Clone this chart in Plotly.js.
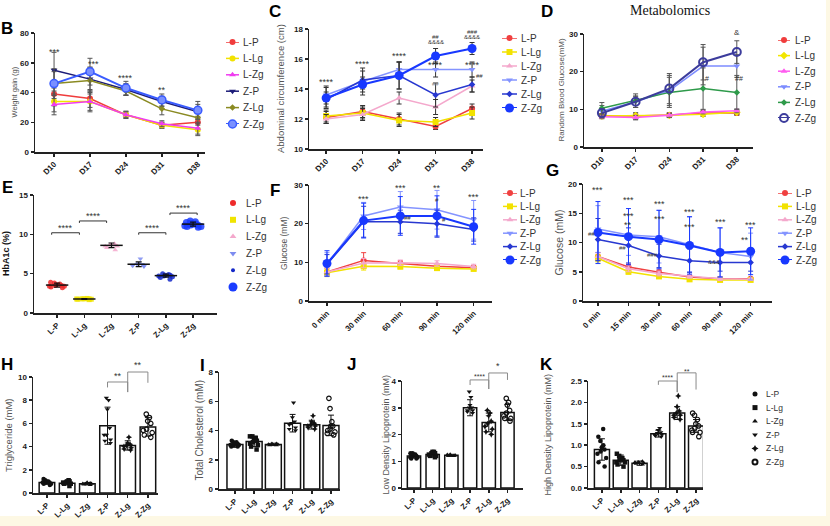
<!DOCTYPE html>
<html><head><meta charset="utf-8">
<script src="https://cdn.plot.ly/plotly-3.0.1.min.js"></script>
<style>html,body{margin:0;padding:0;background:#fff;overflow:hidden}#chart{width:830px;height:526px}</style>
</head><body><div id="chart"></div>
<script>
// ---------------- DATA ----------------
const groups = ['L-P','L-Lg','L-Zg','Z-P','Z-Lg','Z-Zg'];
const days = ['D10','D17','D24','D31','D38'];
const ogttTimes = ['0 min','30 min','60 min','90 min','120 min'];
const ittTimes = ['0 min','15 min','30 min','60 min','90 min','120 min'];

// B: weight gain (g), rows = groups
const weightMean = [[39,36,25,18,20],[34,34,25,18,15],[32,34,25,19,16],[55,49,42,34,27],[46,48,41,29,23],[46,54,43,35,28]];
const weightSD   = [[8,6,2.5,2,4],[7,7,2,2,4],[7,6,2,2,4],[12,8,4,3.5,5],[8,9,3,4,5],[10,9,4.5,4,6]];

// C: abdominal circumference (cm)
const waistMean = [[12.1,12.5,12.0,11.5,12.7],[12.2,12.4,11.9,11.8,12.4],[12.0,12.3,13.4,12.8,14.2],[13.6,14.5,15.3,15.3,15.3],[13.3,14.6,14.9,13.6,14.3],[13.4,14.3,14.9,16.2,16.7]];
const waistSD   = [[0.4,0.4,0.4,0.2,0.3],[0.4,0.4,0.4,0.3,0.4],[0.3,0.4,0.4,0.5,0.4],[0.6,0.9,0.5,0.5,0.5],[0.5,0.6,0.9,0.8,0.5],[0.7,0.5,0.9,0.5,0.4]];

// D: random blood glucose (mM)
const rbgMean = [[8.3,8.2,8.5,9.0,9.0],[8.2,8.3,8.4,8.7,9.2],[8.0,7.8,8.4,9.3,9.6],[9.5,12.0,15.0,21.5,21.5],[10.3,12.3,14.5,15.5,14.5],[9.0,12.0,15.5,22.5,25.2]];
const rbgSD   = [[0.5,0.8,0.6,0.5,0.6],[0.5,0.8,0.6,0.6,0.6],[0.5,0.6,0.5,0.5,0.5],[1.5,1.5,4,5,3],[1.5,1.8,4,5.5,4.5],[1.2,1.5,4,4.7,3]];

// E: HbA1c (%) individual values, mean, SD
const hba1cPts = [
  [3.2,3.4,3.5,3.6,3.8,3.3,3.7,3.5,3.9,3.4],
  [1.7,1.75,1.8,1.8,1.85,1.75,1.8,1.78],
  [8.0,8.3,8.5,8.6,8.7,8.8,8.5,8.6],
  [5.9,6.0,6.2,6.3,6.9,6.1,6.2,6.0],
  [4.3,4.5,4.7,4.8,5.0,4.9,4.6,4.8,4.7],
  [10.9,11.0,11.2,11.3,11.5,11.7,11.3,11.1,11.4,11.2,11.6,11.0]];
const hba1cMean = [3.55,1.78,8.6,6.2,4.75,11.3];
const hba1cSD   = [0.25,0.05,0.3,0.3,0.2,0.25];

// F: OGTT glucose (mM)
const ogttMean = [[7.5,10.5,9.7,9.0,8.6],[7.3,9.0,8.9,8.5,8.3],[7.5,9.8,9.9,9.7,8.9],[9.5,22.0,24.3,23.6,21.0],[9.5,20.5,20.5,20.0,18.5],[9.7,20.8,22.0,22.0,19.2]];
const ogttSD   = [[1,2,0.7,0.6,0.6],[1,1,0.6,0.6,0.5],[1,1.2,0.7,0.7,0.6],[3,3.5,4,5,5],[2.5,4,3,3.5,3],[3.3,4.5,5,5.2,4.5]];

// G: ITT glucose (mM)
const ittMean = [[7.6,5.8,4.9,4.1,3.8,3.8],[7.3,5.0,4.2,3.7,3.6,3.6],[7.6,5.5,4.7,4.2,3.8,3.7],[12.3,11.3,11.0,9.7,8.3,7.6],[10.5,9.5,7.7,6.9,6.6,6.6],[11.7,11.0,10.5,9.5,8.3,8.5]];
const ittSD   = [[0.7,0.5,0.4,0.3,0.3,0.2],[0.6,0.4,0.3,0.3,0.2,0.2],[0.6,0.5,0.4,0.3,0.3,0.2],[4,3.5,4.5,4.7,4.2,4],[3.6,3,2,2,1.5,1.5],[5.3,4.8,5,4.9,4.2,4]];

// H: triglyceride (mM)
const tgMean = [0.9,0.85,0.8,5.8,4.1,5.7];
const tgSD   = [0.15,0.15,0.1,1.6,0.4,0.8];
const tgPts = [[0.7,0.8,0.9,1.0,1.1,0.9,0.8,1.0,1.2,0.9],[0.6,0.8,0.9,1.0,1.1,0.8,0.9,1.0],[0.7,0.8,0.8,0.9,0.85,0.8,0.75],[8.2,8.0,7.2,5.0,4.5,4.3,4.6,5.0,5.6],[4.8,4.3,4.2,3.9,3.8,4.0,4.1,3.7],[6.8,6.5,6.2,6.0,5.5,5.2,5.0,4.8,5.4]];

// I: total cholesterol (mM)
const tcMean = [3.05,3.25,3.05,4.5,4.4,4.35];
const tcSD   = [0.2,0.35,0.08,0.6,0.3,0.7];
const tcPts = [[2.9,3.0,3.1,3.2,3.3,3.0,2.9,3.1,3.0,3.2],[2.7,2.9,3.1,3.3,3.5,3.6,3.4,3.2,3.0,3.6],[3.0,3.05,3.1,3.0,3.1,3.05],[5.9,4.9,4.6,4.4,4.2,4.1,4.5,4.0],[5.0,4.6,4.5,4.3,4.2,4.1,4.3,4.4],[6.2,5.5,4.6,4.3,4.0,3.8,3.7,4.1,3.9,4.3]];

// J: LDL (mM)
const ldlMean = [1.2,1.25,1.22,3.0,2.45,2.82];
const ldlSD   = [0.08,0.1,0.04,0.3,0.35,0.3];
const ldlPts = [[1.1,1.15,1.2,1.25,1.3,1.2,1.15,1.25,1.1,1.3],[1.15,1.2,1.3,1.35,1.25,1.2,1.3,1.35],[1.2,1.22,1.25,1.2,1.24],[3.6,3.4,3.1,3.0,2.9,2.8,2.85,3.0,2.9],[2.9,2.8,2.7,2.5,2.4,2.2,2.1,2.0,2.3],[3.35,3.2,3.1,2.9,2.8,2.6,2.5,2.7,2.6]];

// K: HDL (mM)
const hdlMean = [0.9,0.65,0.58,1.27,1.75,1.45];
const hdlSD   = [0.25,0.12,0.05,0.08,0.15,0.15];
const hdlPts = [[1.38,1.2,1.0,0.95,0.9,0.85,0.7,0.6,0.5,0.8,1.1],[0.8,0.75,0.7,0.65,0.6,0.55,0.5,0.6,0.7,0.65],[0.62,0.6,0.58,0.55,0.57,0.6],[1.4,1.35,1.3,1.25,1.2,1.25,1.28,1.22],[2.15,1.9,1.8,1.7,1.65,1.75,1.7,1.6],[1.75,1.7,1.6,1.5,1.4,1.35,1.3,1.2,1.3,1.45]];

// ---------------- STYLES ----------------
const FONT = 'Liberation Sans, Arial, sans-serif';
const styleB = {colors:['#f03c3c','#f2e200','#f03cf0','#1c1c78','#8a8a22','#3a5cff'], fills:[null,null,null,null,null,'#7a90ff'],
  symbols:['circle','circle','triangle-up','triangle-down','diamond','circle'], sizes:[6,6,6,6,5,8]};
const styleC = {colors:['#f04040','#f2e200','#f4a8cc','#8494ff','#2838d0','#1838ff'],
  symbols:['circle','square','triangle-up','triangle-down','diamond','circle'], sizes:[6,6,6,6,5,9]};
const styleD = {colors:['#f03c3c','#f2e600','#ff5cf0','#7d8cff','#2e9a4a','#3c3c9c'],
  symbols:['circle','diamond','triangle-up','triangle-down','diamond','circle-open'], sizes:[6,6,6,6,5,8]};
const styleE = {colors:['#ee2a2a','#f0e400','#f4a8cc','#7d8cf0','#1428c8','#1a3cff'],
  symbols:['circle','square','triangle-up','triangle-down','circle','circle'], sizes:[6,6,6,6,4,9]};
const styleK = {colors:['#111','#111','#111','#111','#111','#111'],
  symbols:['circle','square','triangle-up','triangle-down','star-diamond','circle-open'], sizes:[5,5,5,5,5,5]};

// ---------------- HELPERS ----------------
const W = 830, H = 526;
const fx = p => p / W;
const fy = p => 1 - p / H;
const data = [];
const layout = {width:W, height:H, margin:{l:0,r:0,t:0,b:0}, paper_bgcolor:'#fff', plot_bgcolor:'rgba(0,0,0,0)',
  showlegend:false, font:{family:FONT}, shapes:[], annotations:[], boxmode:'overlay'};
let axN = 0;
function addAxes(px0, px1, py0, py1, xopt, yopt){
  axN++;
  const s = axN === 1 ? '' : String(axN);
  layout['xaxis'+s] = Object.assign({domain:[fx(px0), fx(px1)], anchor:'y'+s}, xopt);
  layout['yaxis'+s] = Object.assign({domain:[fy(py1), fy(py0)], anchor:'x'+s}, yopt);
  return {x:'x'+s, y:'y'+s};
}
const tickFont = {family:FONT, size:8, color:'#1a1a1a', weight:'bold'};
function xCat(cats, range){
  return {type:'category', categoryorder:'array', categoryarray:cats, range, tickmode:'linear', tick0:0, dtick:1,
    showline:true, linecolor:'#222', linewidth:1.5, ticks:'outside', ticklen:3, tickwidth:1.5, tickcolor:'#222',
    tickangle:-45, tickfont:tickFont, showgrid:false, zeroline:false, fixedrange:true};
}
function yLin(range, dtick, fmt){
  return {range, tick0:0, dtick, tickformat:fmt||'', showline:true, linecolor:'#222', linewidth:1.5, ticks:'outside', ticklen:3,
    tickwidth:1.5, tickcolor:'#222', tickfont:tickFont, showgrid:false, zeroline:false, fixedrange:true};
}
function markerOf(st, i){
  const open = st.symbols[i].endsWith('-open');
  const fill = st.fills && st.fills[i];
  return {symbol:st.symbols[i], size:st.sizes[i], color: fill || st.colors[i],
    line:{color:st.colors[i], width: open ? 2 : (fill ? 1.5 : 0)}};
}
function linePanel(ax, cats, means, sds, st, errColor){
  groups.forEach((g, i) => {
    data.push({type:'scatter', mode:'lines+markers', x:cats, y:means[i], xaxis:ax.x, yaxis:ax.y, name:g,
      line:{color:st.colors[i], width: i === 5 ? 2 : 1.5}, marker:markerOf(st, i), cliponaxis:false, hoverinfo:'skip',
      error_y:{type:'data', array:sds[i], visible:true, color: errColor || st.colors[i], thickness:1, width:2.5}});
  });
}
function barPanel(ax, means, sds, pts, bw){
  data.push({type:'bar', x:groups, y:means, xaxis:ax.x, yaxis:ax.y, width:bw, hoverinfo:'skip',
    marker:{color:'#fff', line:{color:'#111', width:1.5}},
    error_y:{type:'data', array:sds, visible:true, color:'#111', thickness:1, width:3}});
  groups.forEach((g, i) => {
    const mk = markerOf(styleK, i);
    data.push({type:'box', x:pts[i].map(() => g), y:pts[i], xaxis:ax.x, yaxis:ax.y, boxpoints:'all', jitter:0.85,
      pointpos:0, width:bw * 0.85, line:{color:'rgba(0,0,0,0)', width:0}, fillcolor:'rgba(0,0,0,0)', hoverinfo:'skip',
      marker:{symbol:mk.symbol, size:4.5, color:'#111', line:{color:'#111', width: mk.symbol.endsWith('-open') ? 1.2 : 0}}});
  });
}
function legendBlock(px0, px1, pyTop, pyBot, textX, st, withLine, fsize){
  const ax = addAxes(px0, px1, pyTop, pyBot,
    {range:[0,1], visible:false, fixedrange:true},
    {type:'category', categoryorder:'array', categoryarray:groups, range:[groups.length - 1, 0], side:'right',
     showline:false, ticks:'', showgrid:false, zeroline:false, tickmode:'linear', tick0:0, dtick:1, fixedrange:true,
     ticklabelstandoff: Math.max(0, textX - px1 - 3), tickfont:{family:FONT, size:fsize, color:'#333'}});
  groups.forEach((g, i) => {
    if (withLine) data.push({type:'scatter', mode:'lines', x:[0,1], y:[g,g], xaxis:ax.x, yaxis:ax.y,
      line:{color:st.colors[i], width: i === 5 ? 2 : 1.5}, hoverinfo:'skip', cliponaxis:false});
    data.push({type:'scatter', mode:'markers', x:[0.5], y:[g], xaxis:ax.x, yaxis:ax.y, marker:markerOf(st, i),
      hoverinfo:'skip', cliponaxis:false});
  });
}
function frac(yr, v){ return (v - yr[0]) / (yr[1] - yr[0]); }
function sig(ax, yr, xi, v, text, size, color){
  const stars = text.indexOf('*') >= 0;
  layout.annotations.push({xref:ax.x, yref:ax.y + ' domain', x:xi, y:frac(yr, v), text, showarrow:false,
    xanchor:'center', yanchor:'middle', yshift: stars ? -2 : 0,
    font:{family:FONT, size:size || 9, color:color || '#333'}});
}
function bracket(ax, yr, i0, i1, yTop, yL, yR, color){
  const yref = ax.y + ' domain';
  const ln = {color, width:1};
  layout.shapes.push({type:'line', xref:ax.x, yref, x0:i0, x1:i1, y0:frac(yr, yTop), y1:frac(yr, yTop), line:ln});
  layout.shapes.push({type:'line', xref:ax.x, yref, x0:i0, x1:i0, y0:frac(yr, yTop), y1:frac(yr, yL), line:ln});
  layout.shapes.push({type:'line', xref:ax.x, yref, x0:i1, x1:i1, y0:frac(yr, yTop), y1:frac(yr, yR), line:ln});
}
function yTitle(text, cx, py0, py1, size, bold){
  layout.annotations.push({xref:'paper', yref:'paper', x:fx(cx), y:fy((py0 + py1) / 2), text, textangle:-90,
    showarrow:false, xanchor:'center', yanchor:'middle',
    font:{family:FONT, size, color: bold ? '#111' : '#555', weight: bold ? 'bold' : 'normal'}});
}
function letter(t, cx, cy){
  layout.annotations.push({xref:'paper', yref:'paper', x:fx(cx), y:fy(cy), text:'<b>' + t + '</b>', showarrow:false,
    xanchor:'center', yanchor:'middle', font:{family:FONT, size:17, color:'#000'}});
}

// background strips
layout.shapes.push({type:'rect', xref:'paper', yref:'paper', x0:0, x1:1, y0:0, y1:fy(516), fillcolor:'#fdf8e4', line:{width:0}, layer:'below'});
layout.shapes.push({type:'rect', xref:'paper', yref:'paper', x0:fx(826), x1:1, y0:0, y1:1, fillcolor:'#fdf8e4', line:{width:0}, layer:'below'});

// ---------------- PANELS ----------------
// B
const yrB = [0,80];
const axB = addAxes(35, 205, 33, 152, xCat(days, [-0.53, 4.2]), yLin(yrB, 20));
linePanel(axB, days, weightMean, weightSD, styleB, '#555');
sig(axB, yrB, 0, 68.6, '***'); sig(axB, yrB, 1.1, 60.5, '***'); sig(axB, yrB, 2, 51, '****'); sig(axB, yrB, 3, 43, '**');
yTitle('Weight gain (g)', 14, 33, 152, 7.5);
letter('B', 7, 29);

// C
const yrC = [10,18];
const axC = addAxes(309, 483, 29, 149, xCat(days, [-0.47, 4.3]), yLin(yrC, 2));
linePanel(axC, days, waistMean, waistSD, styleC, '#333');
sig(axC, yrC, 0, 14.6, '****'); sig(axC, yrC, 1, 15.8, '****'); sig(axC, yrC, 2, 16.33, '****');
sig(axC, yrC, 3, 15.73, '****'); sig(axC, yrC, 4, 15.73, '****');
sig(axC, yrC, 3, 17.13, '&&&&', 6); sig(axC, yrC, 3, 17.47, '##', 6);
sig(axC, yrC, 4, 17.47, '&&&&', 6); sig(axC, yrC, 4, 17.8, '###', 6);
sig(axC, yrC, 4.2, 14.87, '##', 6); sig(axC, yrC, 3, 14.3, '##', 6, '#888');
yTitle('Abdominal circumference (cm)', 281, 29, 149, 9.5);
letter('C', 275, 11);

// D
const yrD = [0,30];
const axD = addAxes(584, 753, 34, 147, xCat(days, [-0.53, 4.48]), yLin(yrD, 10));
linePanel(axD, days, rbgMean, rbgSD, styleD, '#555');
sig(axD, yrD, 4, 30.3, '&', 8); sig(axD, yrD, 3.12, 18.3, '#', 7); sig(axD, yrD, 4.05, 18.3, '##', 7);
yTitle('Random Blood Glucose(mM)', 561, 34, 147, 8);
letter('D', 547, 11);
layout.annotations.push({xref:'paper', yref:'paper', x:fx(670), y:fy(10), text:'Metabolomics', showarrow:false,
  xanchor:'center', yanchor:'middle', font:{family:'Liberation Serif, DejaVu Serif, serif', size:14, color:'#111'}});

// E
const yrE = [0,15];
const axE = addAxes(34, 217, 195, 313, xCat(groups, [-0.85, 5.88]), yLin(yrE, 5));
groups.forEach((g, i) => {
  data.push({type:'box', x:hba1cPts[i].map(() => g), y:hba1cPts[i], xaxis:axE.x, yaxis:axE.y, boxpoints:'all',
    jitter:1, pointpos:0, width:0.75, line:{color:'rgba(0,0,0,0)', width:0}, fillcolor:'rgba(0,0,0,0)', hoverinfo:'skip',
    marker:{symbol:styleE.symbols[i], size: i === 5 ? 7 : 5, color:styleE.colors[i], opacity:0.85, line:{width:0}}});
});
data.push({type:'scatter', mode:'markers', x:groups, y:hba1cMean, xaxis:axE.x, yaxis:axE.y, hoverinfo:'skip', cliponaxis:false,
  marker:{symbol:'line-ew', size:16, color:'#111', line:{color:'#111', width:1.5}},
  error_y:{type:'data', array:hba1cSD, visible:true, color:'#111', thickness:1.2, width:3}});
bracket(axE, yrE, -0.2, 0.82, 10.2, 9.95, 9.95, '#333'); sig(axE, yrE, 0.31, 11.1, '****');
bracket(axE, yrE, 0.82, 1.82, 11.7, 11.45, 11.45, '#333'); sig(axE, yrE, 1.32, 12.6, '****');
bracket(axE, yrE, 3, 4, 10.2, 9.95, 9.95, '#333'); sig(axE, yrE, 3.5, 11.1, '****');
bracket(axE, yrE, 4.15, 5.15, 12.7, 12.45, 12.45, '#333'); sig(axE, yrE, 4.65, 13.6, '****');
yTitle('HbA1c (%)', 6, 195, 313, 9, true);
letter('E', 7, 188);

// F
const yrF = [0,30];
const axF = addAxes(309, 492, 185, 301, xCat(ogttTimes, [-0.49, 4.5]), yLin(yrF, 10));
linePanel(axF, ogttTimes, ogttMean, ogttSD, styleC);
sig(axF, yrF, 1, 26.9, '***'); sig(axF, yrF, 2, 29.7, '***'); sig(axF, yrF, 3, 29.7, '**'); sig(axF, yrF, 4, 27.4, '***');
sig(axF, yrF, 2.2, 21.5, '##', 6); sig(axF, yrF, 3, 26.1, '#', 6); sig(axF, yrF, 3.2, 20.9, '#', 6);
yTitle('Glucose (mM)', 284, 185, 301, 8.5);
letter('F', 275, 191);

// G
const yrG = [0,20];
const axG = addAxes(583, 772, 184, 301, xCat(ittTimes, [-0.49, 5.7]), yLin(yrG, 5));
linePanel(axG, ittTimes, ittMean, ittSD, styleC);
sig(axG, yrG, 0, 19.3, '***'); sig(axG, yrG, 1, 17.6, '***'); sig(axG, yrG, 1, 14.9, '***'); sig(axG, yrG, 1, 13.4, '**');
sig(axG, yrG, 2, 16.9, '***'); sig(axG, yrG, 2, 14.4, '***'); sig(axG, yrG, 3, 15.6, '***'); sig(axG, yrG, 3, 13.0, '***');
sig(axG, yrG, 4, 13.8, '***'); sig(axG, yrG, 5, 13.3, '***'); sig(axG, yrG, 4.8, 10.8, '**');
sig(axG, yrG, -0.2, 11.4, '##', 6); sig(axG, yrG, 0.8, 9.1, '##', 6); sig(axG, yrG, 1.8, 7.8, '###', 6);
sig(axG, yrG, 3.8, 6.6, '&&&', 6);
yTitle('Glucose (mM)', 559, 184, 301, 10.5);
letter('G', 552, 170);

// H
const yrH = [0,10];
const axH = addAxes(33, 158, 377, 493, xCat(groups, [-0.69, 5.5]), yLin(yrH, 2));
barPanel(axH, tgMean, tgSD, tgPts, 0.77);
bracket(axH, yrH, 3, 4, 9.57, 9.1, 8.7, '#8a8a8a'); bracket(axH, yrH, 4, 5, 10.43, 8.7, 9.5, '#8a8a8a');
sig(axH, yrH, 3.5, 10.25, '**'); sig(axH, yrH, 4.5, 11.2, '**');
yTitle('Triglyceride (mM)', 8, 377, 493, 9.5);
letter('H', 7, 364);

// I
const yrI = [0,8];
const axI = addAxes(219, 340, 372, 489, xCat(groups, [-0.83, 5.47]), yLin(yrI, 2));
barPanel(axI, tcMean, tcSD, tcPts, 0.83);
yTitle('Total Cholesterol (mM)', 199, 372, 489, 10);
letter('I', 202, 365);

// J
const yrJ = [0,4];
const axJ = addAxes(402, 523, 381, 488, xCat(groups, [-0.64, 5.83]), yLin(yrJ, 1));
barPanel(axJ, ldlMean, ldlSD, ldlPts, 0.71);
bracket(axJ, yrJ, 3, 4, 4.04, 3.85, 3.7, '#8a8a8a'); bracket(axJ, yrJ, 4, 5, 4.3, 3.7, 4.04, '#8a8a8a');
sig(axJ, yrJ, 3.5, 4.26, '****', 7); sig(axJ, yrJ, 4.5, 4.62, '*');
yTitle('Low Density Lipoprotein (mM)', 385, 381, 488, 9);
letter('J', 351, 364);

// K
const yrK = [0,2.5];
const axK = addAxes(588, 703, 381, 488, xCat(groups, [-0.74, 5.37]), yLin(yrK, 0.5, '.1f'));
barPanel(axK, hdlMean, hdlSD, hdlPts, 0.8);
bracket(axK, yrK, 3, 4, 2.5, 2.41, 2.24, '#8a8a8a'); bracket(axK, yrK, 4, 5, 2.69, 2.24, 2.3, '#8a8a8a');
sig(axK, yrK, 3.5, 2.64, '****', 7); sig(axK, yrK, 4.5, 2.78, '**', 7);
yTitle('High Density Lipoprotein (mM)', 547, 381, 488, 9);
letter('K', 546, 364);

// ---------------- LEGENDS ----------------
legendBlock(226, 239, 42, 124, 245, styleB, true, 10);
legendBlock(502, 517, 38, 108, 523, styleC, true, 10);
legendBlock(778, 790, 40, 118, 797, styleD, true, 10);
legendBlock(229, 237, 203, 287, 248, styleE, false, 10);
legendBlock(503, 517, 193, 260, 522, styleC, true, 10);
legendBlock(778, 792, 193, 260, 798, styleC, true, 10);
legendBlock(752, 758, 394, 462, 768, styleK, false, 8.5);

Plotly.newPlot('chart', data, layout, {displayModeBar:false, staticPlot:true});
</script>
</body></html>
